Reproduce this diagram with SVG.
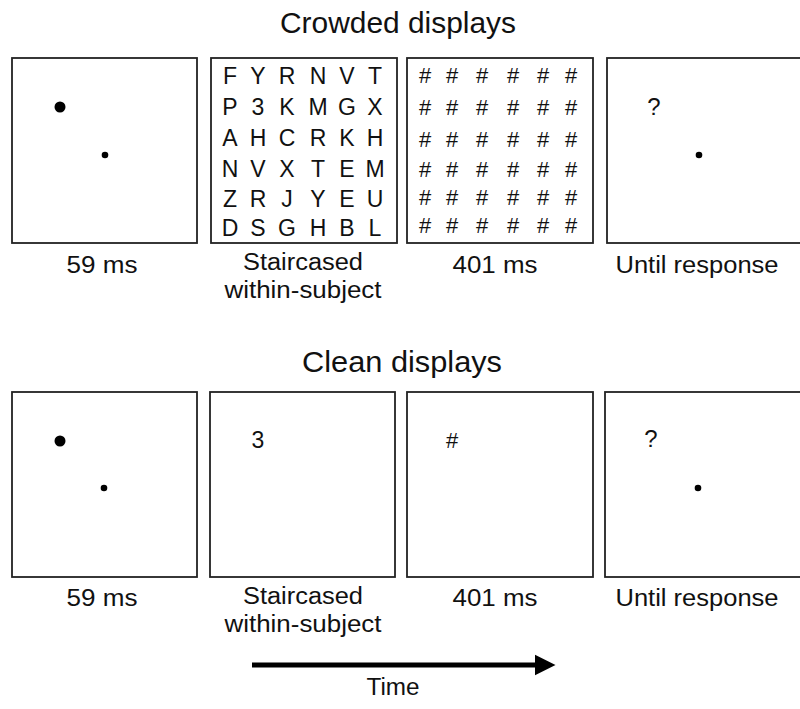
<svg xmlns="http://www.w3.org/2000/svg" width="800" height="709" viewBox="0 0 800 709">
<style>
.panel{fill:#fff;stroke:#222;stroke-width:1.8}
.t{font-family:"Liberation Sans",Arial,sans-serif;fill:#111}
.lab{font-size:23.5px;text-anchor:middle}
.title{font-size:30px;text-anchor:middle}
.g{font-size:23px;text-anchor:middle}
.h{font-size:22px;text-anchor:middle}
.q{font-size:24px;text-anchor:middle}
</style>
<defs>
<marker id="ah" markerWidth="5" markerHeight="5" refX="0.5" refY="2.5" orient="auto" markerUnits="strokeWidth"><path d="M0,0.4 L4.2,2.5 L0,4.6 Z" fill="#000"/></marker>
</defs>
<rect width="800" height="709" fill="#fff"/>
<text class="t title" x="398" y="33" textLength="236" lengthAdjust="spacingAndGlyphs">Crowded displays</text>
<text class="t title" x="402" y="372" textLength="200" lengthAdjust="spacingAndGlyphs">Clean displays</text>

<g id="crowded-fixation">
<rect class="panel" x="12" y="58" width="185" height="185"/>
<circle cx="60" cy="107" r="5.5"/>
<circle cx="105" cy="155" r="3.3"/>
<text class="t lab" x="102" y="273" textLength="71" lengthAdjust="spacingAndGlyphs">59 ms</text>
</g>
<g id="crowded-target">
<rect class="panel" x="211" y="58" width="186" height="185"/>
<g class="t g">
<text y="84"><tspan x="230">F</tspan><tspan x="258">Y</tspan><tspan x="287">R</tspan><tspan x="318">N</tspan><tspan x="347">V</tspan><tspan x="375">T</tspan></text>
<text y="115"><tspan x="230">P</tspan><tspan x="258">3</tspan><tspan x="287">K</tspan><tspan x="318">M</tspan><tspan x="347">G</tspan><tspan x="375">X</tspan></text>
<text y="146"><tspan x="230">A</tspan><tspan x="258">H</tspan><tspan x="287">C</tspan><tspan x="318">R</tspan><tspan x="347">K</tspan><tspan x="375">H</tspan></text>
<text y="177"><tspan x="230">N</tspan><tspan x="258">V</tspan><tspan x="287">X</tspan><tspan x="318">T</tspan><tspan x="347">E</tspan><tspan x="375">M</tspan></text>
<text y="207"><tspan x="230">Z</tspan><tspan x="258">R</tspan><tspan x="287">J</tspan><tspan x="318">Y</tspan><tspan x="347">E</tspan><tspan x="375">U</tspan></text>
<text y="236"><tspan x="230">D</tspan><tspan x="258">S</tspan><tspan x="287">G</tspan><tspan x="318">H</tspan><tspan x="347">B</tspan><tspan x="375">L</tspan></text>
</g>
<text class="t lab" x="303" y="270" textLength="120" lengthAdjust="spacingAndGlyphs">Staircased</text>
<text class="t lab" x="303" y="298" textLength="157" lengthAdjust="spacingAndGlyphs">within-subject</text>
</g>
<g id="crowded-mask">
<rect class="panel" x="407" y="58" width="186" height="185"/>
<g class="t h">
<text y="83"><tspan x="425">#</tspan><tspan x="452">#</tspan><tspan x="482">#</tspan><tspan x="513">#</tspan><tspan x="543">#</tspan><tspan x="571">#</tspan></text>
<text y="115"><tspan x="425">#</tspan><tspan x="452">#</tspan><tspan x="482">#</tspan><tspan x="513">#</tspan><tspan x="543">#</tspan><tspan x="571">#</tspan></text>
<text y="147"><tspan x="425">#</tspan><tspan x="452">#</tspan><tspan x="482">#</tspan><tspan x="513">#</tspan><tspan x="543">#</tspan><tspan x="571">#</tspan></text>
<text y="177"><tspan x="425">#</tspan><tspan x="452">#</tspan><tspan x="482">#</tspan><tspan x="513">#</tspan><tspan x="543">#</tspan><tspan x="571">#</tspan></text>
<text y="205"><tspan x="425">#</tspan><tspan x="452">#</tspan><tspan x="482">#</tspan><tspan x="513">#</tspan><tspan x="543">#</tspan><tspan x="571">#</tspan></text>
<text y="233"><tspan x="425">#</tspan><tspan x="452">#</tspan><tspan x="482">#</tspan><tspan x="513">#</tspan><tspan x="543">#</tspan><tspan x="571">#</tspan></text>
</g>
<text class="t lab" x="495" y="273" textLength="85" lengthAdjust="spacingAndGlyphs">401 ms</text>
</g>
<g id="crowded-response">
<rect class="panel" x="607" y="58" width="200" height="185"/>
<text class="t q" x="654" y="115">?</text>
<circle cx="699" cy="155" r="3.3"/>
<text class="t lab" x="697" y="273" textLength="163" lengthAdjust="spacingAndGlyphs">Until response</text>
</g>

<g id="clean-fixation">
<rect class="panel" x="12" y="392" width="185" height="185"/>
<circle cx="60" cy="441" r="5.5"/>
<circle cx="104" cy="488" r="3.3"/>
<text class="t lab" x="102" y="606" textLength="71" lengthAdjust="spacingAndGlyphs">59 ms</text>
</g>
<g id="clean-target">
<rect class="panel" x="210" y="392" width="185" height="185"/>
<text class="t g" x="258" y="448">3</text>
<text class="t lab" x="303" y="604" textLength="120" lengthAdjust="spacingAndGlyphs">Staircased</text>
<text class="t lab" x="303" y="632" textLength="157" lengthAdjust="spacingAndGlyphs">within-subject</text>
</g>
<g id="clean-mask">
<rect class="panel" x="407" y="392" width="186" height="185"/>
<text class="t h" x="452" y="448">#</text>
<text class="t lab" x="495" y="606" textLength="85" lengthAdjust="spacingAndGlyphs">401 ms</text>
</g>
<g id="clean-response">
<rect class="panel" x="605" y="392" width="200" height="185"/>
<text class="t q" x="651" y="447">?</text>
<circle cx="698" cy="488" r="3.3"/>
<text class="t lab" x="697" y="606" textLength="163" lengthAdjust="spacingAndGlyphs">Until response</text>
</g>

<g id="connectors">
<line x1="252" y1="665" x2="537" y2="665" stroke="#000" stroke-width="5" marker-end="url(#ah)"/>
</g>
<text class="t lab" x="393" y="695" textLength="53" lengthAdjust="spacingAndGlyphs">Time</text>
</svg>
